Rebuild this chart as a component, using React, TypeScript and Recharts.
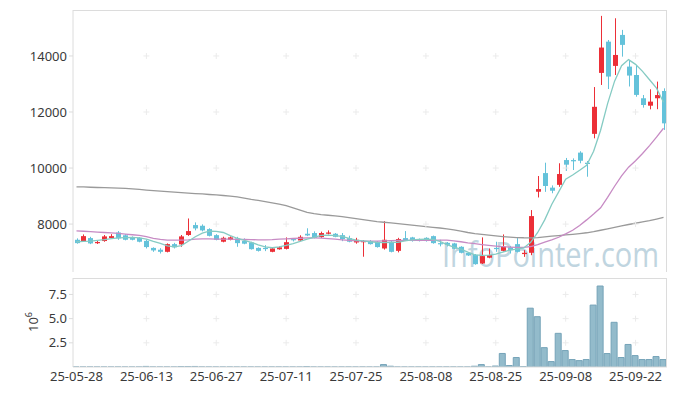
import { ComposedChart, Bar, Line, XAxis, YAxis, ReferenceDot } from "recharts";

const dates = [
  "25-05-28", "25-05-29", "25-05-30", "25-06-02", "25-06-04", "25-06-05", "25-06-09", "25-06-10", "25-06-11", "25-06-12",
  "25-06-13", "25-06-16", "25-06-17", "25-06-18", "25-06-19", "25-06-20", "25-06-23", "25-06-24", "25-06-25", "25-06-26",
  "25-06-27", "25-06-30", "25-07-01", "25-07-02", "25-07-03", "25-07-04", "25-07-07", "25-07-08", "25-07-09", "25-07-10",
  "25-07-11", "25-07-14", "25-07-15", "25-07-16", "25-07-17", "25-07-18", "25-07-21", "25-07-22", "25-07-23", "25-07-24",
  "25-07-25", "25-07-28", "25-07-29", "25-07-30", "25-07-31", "25-08-01", "25-08-04", "25-08-05", "25-08-06", "25-08-07",
  "25-08-08", "25-08-11", "25-08-12", "25-08-13", "25-08-14", "25-08-18", "25-08-19", "25-08-20", "25-08-21", "25-08-22",
  "25-08-25", "25-08-26", "25-08-27", "25-08-28", "25-08-29", "25-09-01", "25-09-02", "25-09-03", "25-09-04", "25-09-05",
  "25-09-08", "25-09-09", "25-09-10", "25-09-11", "25-09-12", "25-09-15", "25-09-16", "25-09-17", "25-09-18", "25-09-19",
  "25-09-22", "25-09-23", "25-09-24", "25-09-25", "25-09-26",
];

const open = [
  7440, 7390, 7500, 7330, 7395, 7500, 7700, 7600, 7535, 7510,
  7400, 7150, 7085, 7010, 7285, 7275, 7610, 7965, 7940, 7820,
  7605, 7370, 7440, 7490, 7395, 7345, 7150, 7150, 7010, 7100,
  7115, 7465, 7415, 7655, 7680, 7535, 7655, 7655, 7605, 7500,
  7345, 7355, 7395, 7370, 7130, 7370, 7045, 7500, 7525, 7465,
  7510, 7570, 7320, 7330, 7310, 7190, 6975, 6905, 6595, 6800,
  7150, 7045, 7165, 7285, 6930, 6975, 9155, 9820, 9300, 9400,
  10285, 10285, 10550, 10190, 11220, 13395, 14510, 13645, 14750, 13620,
  13320, 12490, 12225, 12490, 12750,
];

const close = [
  7320, 7570, 7310, 7360, 7560, 7570, 7490, 7440, 7440, 7370,
  7180, 7060, 7010, 7285, 7170, 7560, 7750, 7845, 7775, 7580,
  7440, 7510, 7525, 7320, 7300, 7105, 7045, 7120, 7130, 7170,
  7355, 7430, 7545, 7595, 7510, 7680, 7700, 7545, 7465, 7370,
  7440, 7395, 7285, 7180, 7440, 7010, 7465, 7415, 7395, 7395,
  7395, 7320, 7290, 7260, 7120, 6975, 6880, 6570, 6857, 6895,
  7120, 7190, 7070, 7010, 6975, 8285, 9250, 9360, 9190, 9786,
  10120, 10240, 10260, 10145, 12185, 14300, 13265, 14035, 14395, 13300,
  12610, 12250, 12370, 12605, 11595,
];

const high = [
  7490, 7630, 7545, 7395, 7610, 7640, 7750, 7640, 7560, 7530,
  7440, 7170, 7140, 7310, 7330, 7610, 8200, 8060, 7990, 7850,
  7640, 7550, 7560, 7545, 7490, 7370, 7170, 7250, 7150, 7205,
  7525, 7500, 7600, 7850, 7740, 7730, 7775, 7680, 7680, 7585,
  7510, 7430, 7430, 7390, 8105, 7395, 7510, 7750, 7545, 7485,
  7530, 7590, 7440, 7360, 7330, 7210, 7000, 6930, 7525, 7130,
  7370, 7630, 7215, 7500, 7070, 8500, 9715, 10190, 9380, 10170,
  10360, 10345, 10600, 10250, 12890, 15430, 14570, 15345, 14930, 13845,
  13680, 12607, 12810, 13085, 12845,
];

const low = [
  7300, 7370, 7285, 7290, 7370, 7480, 7440, 7420, 7420, 7350,
  7130, 7010, 6950, 6990, 7130, 7190, 7580, 7775, 7740, 7560,
  7420, 7350, 7420, 7190, 7280, 7090, 7020, 7035, 6995, 7085,
  7095, 7380, 7400, 7570, 7490, 7510, 7630, 7530, 7390, 7350,
  7300, 6835, 7270, 7160, 7090, 6990, 6990, 7395, 7375, 7380,
  7375, 7300, 7205, 7200, 7100, 6955, 6860, 6550, 6575, 6780,
  7010, 7020, 6950, 6990, 6830, 6890, 8950, 9150, 9100, 9330,
  9895, 9930, 10170, 9690, 11060, 12965, 12820, 13320, 13975, 12910,
  12545, 12155, 12095, 12100, 11360,
];

const ma5 = [
  7370, 7380, 7393, 7420, 7445, 7480, 7505, 7520, 7525, 7510,
  7460, 7380, 7310, 7220, 7190, 7230, 7390, 7550, 7680, 7745,
  7740, 7700, 7590, 7495, 7420, 7350, 7260, 7190, 7155, 7190,
  7240, 7300, 7380, 7460, 7530, 7600, 7605, 7590, 7560, 7490,
  7430, 7400, 7370, 7345, 7340, 7345, 7350, 7400, 7440, 7455,
  7465, 7450, 7380, 7270, 7180, 7110, 7000, 6900, 6880, 6890,
  6930, 7000, 7070, 7110, 7150, 7350, 7700, 8150, 8700, 9150,
  9600, 9750, 9920, 10100, 10600, 11350, 12300, 13100, 13650, 13870,
  13700, 13450, 13150, 12850, 12350,
];

const ma20 = [
  7760, 7745, 7730, 7715, 7700, 7685, 7670, 7645, 7620, 7595,
  7550, 7490, 7455, 7430, 7425, 7425, 7435, 7460, 7470, 7470,
  7465, 7465, 7460, 7455, 7450, 7445, 7440, 7440, 7445, 7460,
  7475, 7485, 7495, 7505, 7510, 7500, 7480, 7460, 7440, 7420,
  7400, 7395, 7393, 7395, 7400, 7410, 7415, 7420, 7420, 7420,
  7420, 7420, 7425, 7425, 7400, 7370, 7330, 7300, 7270, 7240,
  7215, 7195, 7180, 7170, 7170, 7200, 7270, 7360, 7440, 7530,
  7650, 7780, 7950, 8150, 8360, 8580, 8950, 9350, 9720, 10030,
  10260, 10520, 10800, 11100, 11420,
];

const ma60 = [
  9330, 9325, 9315, 9305, 9298, 9290, 9282, 9275, 9255, 9235,
  9215, 9195, 9179, 9160, 9140, 9120, 9105, 9090, 9075, 9055,
  9040, 9020, 9000, 8970, 8930, 8880, 8845, 8800, 8760, 8715,
  8660, 8580, 8500, 8420, 8375, 8340, 8315, 8290, 8265, 8230,
  8195, 8160, 8125, 8090, 8065, 8040, 8015, 7990, 7960, 7935,
  7910, 7885, 7860, 7830, 7790, 7750, 7700, 7660, 7630, 7605,
  7580, 7555, 7535, 7520, 7512, 7510, 7515, 7540, 7570, 7590,
  7615, 7635, 7660, 7690, 7730, 7780, 7830, 7880, 7935, 7985,
  8030, 8080, 8125, 8180, 8240,
];

const volume = [
  8000, 6000, 9000, 5000, 7000, 6000, 8000, 5000, 4000, 6000,
  60000, 7000, 5000, 9000, 6000, 50000, 45000, 55000, 9000, 7000,
  6000, 5000, 8000, 4000, 6000, 7000, 5000, 6000, 8000, 9000,
  7000, 6000, 5000, 50000, 6000, 5000, 7000, 4000, 6000, 8000,
  5000, 9000, 6000, 7000, 250000, 80000, 7000, 6000, 5000, 8000,
  6000, 7000, 5000, 9000, 8000, 7000, 6000, 80000, 250000, 8000,
  100000, 1400000, 150000, 980000, 50000, 6080000, 5200000, 2000000, 560000, 3480000,
  1700000, 770000, 660000, 770000, 6400000, 8370000, 1390000, 4620000, 980000, 2330000,
  1180000, 770000, 770000, 1080000, 770000,
];

const xTicks = ["25-05-28", "25-06-13", "25-06-27", "25-07-11", "25-07-25", "25-08-08", "25-08-25", "25-09-08", "25-09-22"];
const priceTicks = [8000, 10000, 12000, 14000];
const volTicks = [2500000, 5000000, 7500000];

const UP = "#ec2f37";
const DOWN = "#64c2da";
const GRID = "#dcdcdc";
const CROSS = "#ebebeb";
const TEXT = "#3a3a3a";

const priceData = dates.map((d, i) => ({
  date: d,
  open: open[i],
  close: close[i],
  high: high[i],
  low: low[i],
  range: [low[i], high[i]],
  ma5: ma5[i],
  ma20: ma20[i],
  ma60: ma60[i],
}));

const volData = dates.map((d, i) => ({ date: d, volume: volume[i] }));

function Candle(props: any) {
  const { x, y, width, height, payload } = props;
  if (!payload) return null;
  const up = payload.close >= payload.open;
  const color = up ? UP : DOWN;
  const ratio = height / (payload.high - payload.low);
  const cx = Math.round(x + width / 2) + 0.5;
  const top = y + (payload.high - Math.max(payload.open, payload.close)) * ratio;
  const bodyH = Math.max(Math.abs(payload.open - payload.close) * ratio, 1.2);
  return (
    <g>
      <line x1={cx} x2={cx} y1={y} y2={y + height} stroke={color} strokeWidth={1} />
      <rect x={cx - 2.5} y={top} width={5} height={bodyH} fill={color} />
    </g>
  );
}

function Cross(props: any) {
  const { cx, cy } = props;
  return <path d={`M${cx - 3},${cy}h6M${cx},${cy - 3}v6`} stroke={CROSS} strokeWidth={1} fill="none" />;
}

const innerTicks = xTicks.slice(1);

export default function App() {
  return (
    <div
      style={{
        position: "absolute",
        left: 0,
        top: 0,
        width: 677,
        height: 396,
        background: "#fff",
        overflow: "hidden",
        fontFamily: "'Noto Sans', sans-serif",
      }}
    >
      <svg width={677} height={396} style={{ position: "absolute", left: 0, top: 0 }}>
        <text
          x={442}
          y={267}
          fontSize={35}
          fill="#c0d5e0"
          textLength={217}
          lengthAdjust="spacingAndGlyphs"
          style={{ fontFamily: "'Open Sans', sans-serif" }}
        >
          InfoPointer.com
        </text>
      </svg>

      <div style={{ position: "absolute", left: 0, top: 0 }}>
        <ComposedChart width={677} height={275} data={priceData} margin={{ top: 10, right: 10, bottom: 3, left: 0 }}>
          <XAxis dataKey="date" hide />
          <YAxis
            domain={[6290, 15640]}
            ticks={priceTicks}
            allowDataOverflow
            width={73}
            tick={{ fontSize: 13, fill: TEXT }}
            tickSize={4}
            tickMargin={2}
            axisLine={{ stroke: GRID }}
            tickLine={{ stroke: GRID }}
          />
          {innerTicks.map((d) =>
            priceTicks.map((p) => <ReferenceDot key={d + p} x={d} y={p} r={0} shape={Cross} />)
          )}
          <Bar dataKey="range" barSize={5} shape={(p: any) => <Candle {...p} />} isAnimationActive={false} />
          <Line dataKey="ma60" type="linear" stroke="#9a9a9a" strokeWidth={1.3} dot={false} isAnimationActive={false} />
          <Line dataKey="ma20" type="linear" stroke="#c78bc4" strokeWidth={1.3} dot={false} isAnimationActive={false} />
          <Line dataKey="ma5" type="linear" stroke="#85cbc3" strokeWidth={1.3} dot={false} isAnimationActive={false} />
        </ComposedChart>
      </div>

      <div style={{ position: "absolute", left: 0, top: 270 }}>
        <ComposedChart width={677} height={126} data={volData} margin={{ top: 8, right: 10, bottom: 0, left: 0 }}>
          <XAxis
            dataKey="date"
            ticks={xTicks}
            interval={0}
            height={29}
            tick={{ fontSize: 13, fill: TEXT }}
            tickLine={false}
            tickSize={3}
            tickMargin={2}
            axisLine={{ stroke: GRID }}
          />
          <YAxis
            domain={[0, 9200000]}
            ticks={volTicks}
            allowDataOverflow
            width={73}
            tick={{ fontSize: 13, fill: TEXT }}
            tickFormatter={(v: number) => (v / 1000000).toFixed(1)}
            tickSize={4}
            tickMargin={2}
            axisLine={{ stroke: GRID }}
            tickLine={{ stroke: GRID }}
          />
          {innerTicks.map((d) =>
            volTicks.map((v) => <ReferenceDot key={d + v} x={d} y={v} r={0} shape={Cross} />)
          )}
          <Bar dataKey="volume" barSize={6} fill="#93bbcb" stroke="#75a3b8" strokeWidth={1} isAnimationActive={false} />
        </ComposedChart>
      </div>

      <div
        style={{
          position: "absolute",
          left: 73,
          top: 10,
          width: 594,
          height: 262,
          borderTop: `1px solid ${GRID}`,
          borderRight: `1px solid ${GRID}`,
          boxSizing: "border-box",
          pointerEvents: "none",
        }}
      />
      <div
        style={{
          position: "absolute",
          left: 73,
          top: 278,
          width: 594,
          height: 89,
          borderTop: `1px solid ${GRID}`,
          borderRight: `1px solid ${GRID}`,
          boxSizing: "border-box",
          pointerEvents: "none",
        }}
      />

      <svg width={60} height={60} style={{ position: "absolute", left: 10, top: 292 }}>
        <text transform="translate(28,30) rotate(-90)" textAnchor="middle" fontSize={13} fill={TEXT}>
          10
          <tspan dy={-6} fontSize={9}>
            6
          </tspan>
        </text>
      </svg>
    </div>
  );
}
